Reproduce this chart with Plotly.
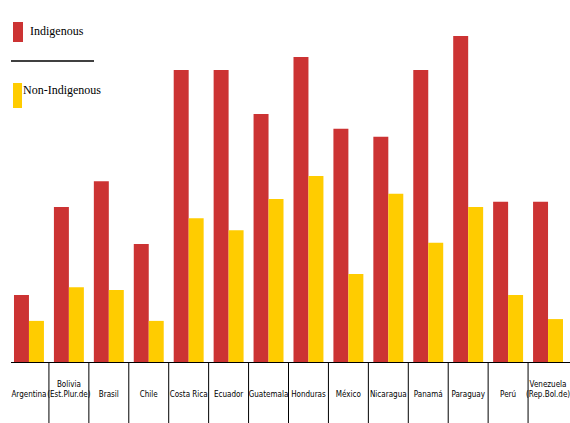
import plotly.graph_objects as go

countries = ["Argentina", "Bolivia (Est.Plur.de)", "Brasil", "Chile", "Costa Rica", "Ecuador",
             "Guatemala", "Honduras", "México", "Nicaragua", "Panamá", "Paraguay", "Perú",
             "Venezuela (Rep.Bol.de)"]
tick_labels = [" <br>Argentina", "Bolivia<br>(Est.Plur.de)", " <br>Brasil", " <br>Chile",
               " <br>Costa Rica", " <br>Ecuador", " <br>Guatemala", " <br>Honduras",
               " <br>México", " <br>Nicaragua", " <br>Panamá", " <br>Paraguay", " <br>Perú",
               "Venezuela<br>(Rep.Bol.de)"]
indigenous = [18.7, 43.0, 50.1, 32.8, 80.7, 80.7, 68.6, 84.3, 64.5, 62.3, 80.7, 90.1, 44.4, 44.4]
non_indigenous = [11.6, 20.9, 20.1, 11.6, 39.9, 36.6, 45.2, 51.5, 24.5, 46.6, 33.1, 43.0, 18.7, 12.1]

RED = "#CC3333"
YELLOW = "#FFCC00"

fig = go.Figure()
fig.add_trace(go.Bar(x=countries, y=indigenous, name="Indigenous", marker_color=RED,
                     marker_line_width=0))
fig.add_trace(go.Bar(x=countries, y=non_indigenous, name="Non-Indigenous", marker_color=YELLOW,
                     marker_line_width=0))

W, H = 570, 423
ml, mr, mt, mb = 9, 2, 0, 60
pw, ph = W - ml - mr, H - mt - mb

def px(x):
    return (x - ml) / pw

def py(y):
    return (H - mb - y) / ph

shapes = []
# baseline
shapes.append(dict(type="line", xref="paper", yref="y", x0=px(11), x1=px(W), y0=0, y1=0,
                   line=dict(color="black", width=2)))
# category separators
for i in range(len(countries) - 1):
    shapes.append(dict(type="line", xref="x", yref="paper", x0=i + 0.5, x1=i + 0.5,
                       y0=0, y1=py(H), line=dict(color="black", width=1)))
# legend swatches and rule
shapes.append(dict(type="rect", xref="paper", yref="paper", x0=px(13), x1=px(23),
                   y0=py(42), y1=py(22), fillcolor=RED, line_width=0))
shapes.append(dict(type="line", xref="paper", yref="paper", x0=px(11), x1=px(94),
                   y0=py(61), y1=py(61), line=dict(color="black", width=1.5)))
shapes.append(dict(type="rect", xref="paper", yref="paper", x0=px(13), x1=px(22),
                   y0=py(108), y1=py(83), fillcolor=YELLOW, line_width=0))

legend_font = dict(family="Liberation Serif", size=12, color="black")
annotations = [
    dict(text=fig.data[0].name, xref="paper", yref="paper", x=px(28), y=py(31),
         xanchor="left", yanchor="middle", showarrow=False, font=legend_font),
    dict(text=fig.data[1].name, xref="paper", yref="paper", x=px(21), y=py(90),
         xanchor="left", yanchor="middle", showarrow=False, font=legend_font),
]

fig.update_layout(
    width=W, height=H,
    margin=dict(l=ml, r=mr, t=mt, b=mb, autoexpand=False),
    paper_bgcolor="white", plot_bgcolor="white",
    barmode="group", bargap=0.25, bargroupgap=0,
    showlegend=False,
    shapes=shapes, annotations=annotations,
    xaxis=dict(tickmode="array", tickvals=countries, ticktext=tick_labels,
               ticks="", showline=False, showgrid=False, zeroline=False,
               tickangle=0, automargin=False,
               range=[-0.5, len(countries) - 0.5], ticklabelstandoff=15,
               tickfont=dict(family="DejaVu Sans Condensed", size=8, color="black")),
    yaxis=dict(range=[0, 100], visible=False, showgrid=False, zeroline=False),
)

fig.write_html("out.html")
